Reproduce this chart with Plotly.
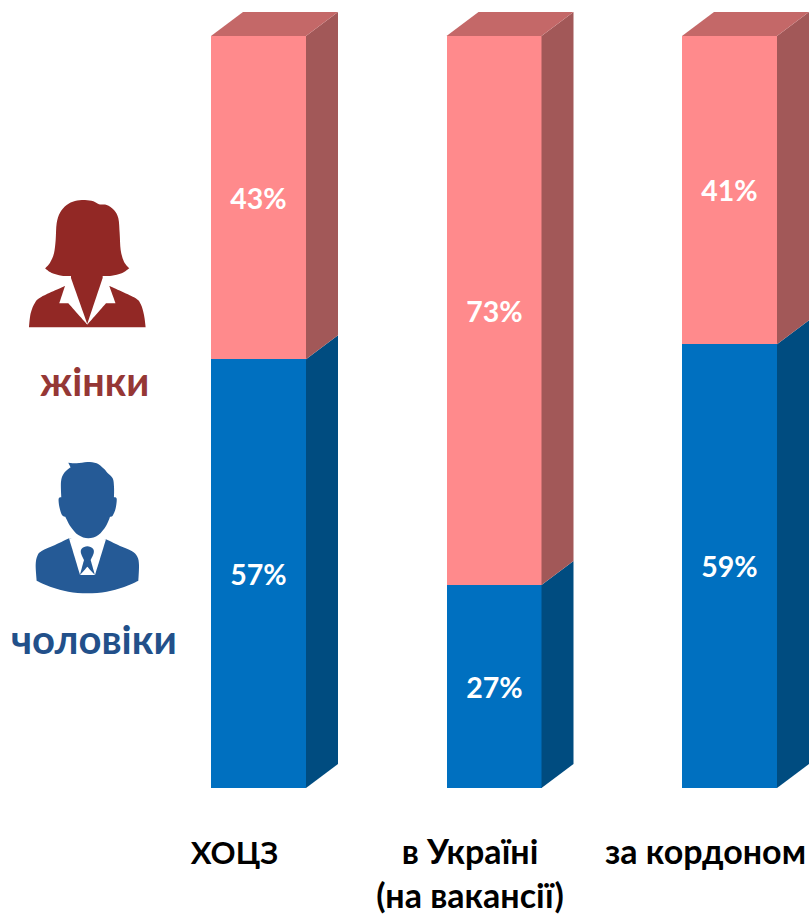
import plotly.graph_objects as go

categories = ["ХОЦЗ", "в Україні<br>(на вакансії)", "за кордоном"]
men = [57, 27, 59]
women = [43, 73, 41]
legend_women = "жінки"
legend_men = "чоловіки"

W, H, PLOT_H = 811, 916, 800
FONT = "Lato, 'Open Sans', sans-serif"
BAR_W = 95 / 235.5
DX, DY = 32 / 235.5, 24 / 7.52
xs = list(range(len(categories)))

BLUE, BLUE_SIDE = "#0070C0", "#004C80"
PINK, PINK_SIDE, PINK_TOP = "#FF8A8C", "#A25858", "#C46868"
WOMAN, MAN = "#922825", "#255A96"
WOMAN_TEXT, MAN_TEXT = "#953735", "#22508A"

fig = go.Figure()
fig.add_bar(x=xs, y=men, width=BAR_W, marker=dict(color=BLUE, line_width=0),
            text=[f"{v}%" for v in men], textposition="inside", insidetextanchor="middle",
            textangle=0, textfont=dict(family=FONT, size=28.5, color="white", weight="bold"),
            hoverinfo="skip")
fig.add_bar(x=xs, y=women, width=BAR_W, marker=dict(color=PINK, line_width=0),
            text=[f"{v}%" for v in women], textposition="inside", insidetextanchor="middle",
            textangle=0, textfont=dict(family=FONT, size=28.5, color="white", weight="bold"),
            hoverinfo="skip")


def face(px, py, color):
    fig.add_scatter(x=px, y=py, mode="lines", fill="toself", fillcolor=color,
                    line=dict(width=0, color=color), hoverinfo="skip", showlegend=False)


for x, m, w in zip(xs, men, women):
    r = x + BAR_W / 2
    l = x - BAR_W / 2
    t = m + w
    face([r, r + DX, r + DX, r, r], [0, DY, m + DY, m, 0], BLUE_SIDE)
    face([r, r + DX, r + DX, r, r], [m, m + DY, t + DY, t, m], PINK_SIDE)
    face([l, l + DX, r + DX, r, l], [t, t + DY, t + DY, t, t], PINK_TOP)


def path(origin, pts):
    """Closed outline from points of the zoomed icon crop (3x); a third item marks a sharp corner."""
    ox, oy = origin
    P = [((p[0] / 3 + ox) / W, (PLOT_H - (p[1] / 3 + oy)) / PLOT_H, len(p) > 2) for p in pts]
    n = len(P)
    out = [f"M{P[0][0]:.5f},{P[0][1]:.5f}"]
    for i in range(n):
        p0, p1, p2, p3 = P[i - 1], P[i], P[(i + 1) % n], P[(i + 2) % n]
        c1 = p1[:2] if p1[2] else (p1[0] + (p2[0] - p0[0]) / 6, p1[1] + (p2[1] - p0[1]) / 6)
        c2 = p2[:2] if p2[2] else (p2[0] - (p3[0] - p1[0]) / 6, p2[1] - (p3[1] - p1[1]) / 6)
        out.append(f"C{c1[0]:.5f},{c1[1]:.5f} {c2[0]:.5f},{c2[1]:.5f} {p2[0]:.5f},{p2[1]:.5f}")
    return " ".join(out) + " Z"


def icon(origin, pts, color):
    fig.add_shape(type="path", xref="paper", yref="paper", path=path(origin, pts),
                  fillcolor=color, line_width=0, layer="above")


S = 1  # corner flag
w0 = (0, 190)
icon(w0, [(135, 235, S), (150, 218), (162, 190), (167, 150), (170, 100), (180, 68), (200, 45), (225, 33),
          (255, 30), (280, 34), (297, 43), (320, 45), (342, 60), (355, 85), (359, 130), (362, 180),
          (372, 215), (388, 235, S), (365, 250), (335, 257), (308, 258, S), (308, 264, S), (262, 402, S),
          (213, 264, S), (213, 258, S), (185, 257), (155, 249)], WOMAN)
icon(w0, [(87, 412, S), (92, 370), (105, 338), (125, 320), (195, 288, S), (178, 340, S), (205, 340, S),
          (262, 404, S), (318, 340, S), (347, 340, S), (328, 288, S), (402, 322), (422, 342), (432, 375),
          (437, 412, S)], WOMAN)

m0 = (0, 450)
icon(m0, [(110, 392, S), (107, 345), (112, 318), (125, 303), (165, 285), (207, 265, S), (318, 268, S),
          (360, 288), (395, 303), (412, 320), (417, 345), (415, 392, S), (370, 412), (320, 425), (262, 430),
          (205, 425), (155, 412)], MAN)
icon(m0, [(207, 265, S), (240, 375, S), (285, 375, S), (318, 268, S), (262, 262, S)], "white")
icon(m0, [(262, 289), (245, 296), (243, 310), (252, 330, S), (240, 375, S), (262, 350, S), (285, 375, S),
          (272, 330, S), (281, 310), (279, 296)], MAN)
icon(m0, [(205, 38, S), (230, 40), (262, 36), (290, 40), (310, 55), (322, 68), (338, 85), (342, 110),
          (342, 142, S), (350, 146), (347, 175), (338, 197), (330, 200, S), (318, 228), (295, 255),
          (265, 265), (235, 255), (212, 230), (196, 200, S), (186, 195), (178, 170), (176, 146),
          (184, 142, S), (183, 95), (192, 70), (212, 52, S)], MAN)


def label(text, px, py, color, size):
    fig.add_annotation(text=text, xref="paper", yref="paper", x=px / W, y=(PLOT_H - py) / PLOT_H,
                       showarrow=False, xanchor="center", yanchor="middle",
                       font=dict(family=FONT, size=size, color=color, weight="bold"))


label(legend_women, 94, 381, WOMAN_TEXT, 39.5)
label(legend_men, 94, 639, MAN_TEXT, 40)

ticktext = [f'<span style="font-size:31px">{c}</span>' if c.isupper() else c for c in categories]

fig.update_layout(
    width=W, height=H, barmode="stack", showlegend=False, bargap=0,
    margin=dict(l=0, r=0, t=0, b=H - PLOT_H, pad=0, autoexpand=False),
    paper_bgcolor="white", plot_bgcolor="white",
    xaxis=dict(range=[-258.5 / 235.5, (W - 258.5) / 235.5], tickmode="array", tickvals=xs,
               ticktext=ticktext, ticks="", showgrid=False, zeroline=False, showline=False,
               automargin=False, ticklabelshift=-24, ticklabelstandoff=29,
               tickfont=dict(family=FONT, size=34, color="black", weight="bold")),
    yaxis=dict(range=[-12 / 7.52, 788 / 7.52], visible=False, showgrid=False, zeroline=False,
               automargin=False),
)
fig.write_html("out.html", post_script="document.body.style.margin='0';",
               config={"displayModeBar": False})
